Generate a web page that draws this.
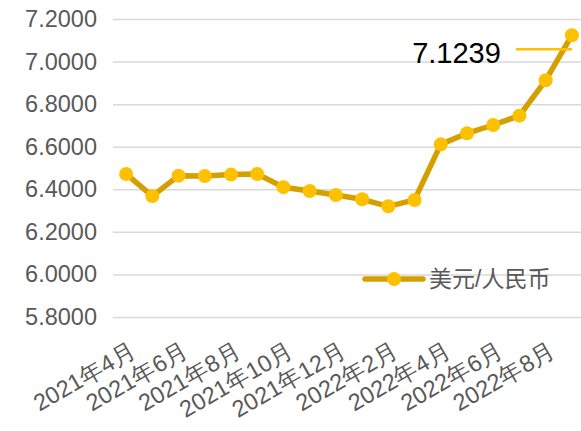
<!DOCTYPE html>
<html>
<head>
<meta charset="utf-8">
<script src="https://cdn.jsdelivr.net/npm/d3@7"></script>
<style>
  html, body { margin: 0; padding: 0; background: #fff; }
  svg { display: block; font-family: "Liberation Sans", Arial, "Noto Sans CJK SC", sans-serif; }
</style>
</head>
<body>
<div id="chart"></div>
<script>
// Month labels (every other one is shown on the axis)
const months = [
  "2021年4月", "2021年5月", "2021年6月", "2021年7月", "2021年8月", "2021年9月",
  "2021年10月", "2021年11月", "2021年12月", "2022年1月", "2022年2月", "2022年3月",
  "2022年4月", "2022年5月", "2022年6月", "2022年7月", "2022年8月", "2022年9月",
];

// USD/CNY values
const rates = [
  6.472, 6.368, 6.464, 6.462, 6.469, 6.472,
  6.410, 6.392, 6.373, 6.353, 6.320, 6.350,
  6.611, 6.663, 6.702, 6.746, 6.912, 7.1239,
];

const yTicks = [5.8, 6.0, 6.2, 6.4, 6.6, 6.8, 7.0, 7.2];
const seriesName = "美元/人民币";

const width = 581;
const height = 431;
const margin = { top: 19, right: -4, bottom: 114, left: 113 };

const svg = d3
  .select("#chart")
  .append("svg")
  .attr("width", width)
  .attr("height", height);

const x = d3
  .scalePoint()
  .domain(months)
  .range([margin.left, width - margin.right])
  .padding(0.5);

const y = d3
  .scaleLinear()
  .domain([5.8, 7.2])
  .range([height - margin.bottom, margin.top]);

// gridlines + y labels
const yAxis = svg
  .append("g")
  .attr("transform", `translate(${margin.left}, 0)`)
  .call(
    d3
      .axisLeft(y)
      .tickValues(yTicks)
      .tickSize(-(width - margin.right - margin.left))
      .tickPadding(16)
      .tickFormat(d3.format(".4f"))
  );
yAxis.select(".domain").remove();
yAxis.selectAll(".tick line").attr("stroke", "#d9d9d9").attr("stroke-width", 1.5);
yAxis
  .selectAll(".tick text")
  .attr("fill", "#595959")
  .style("font-size", "23.5px");

// x labels, rotated
const xAxis = svg
  .append("g")
  .attr("transform", `translate(0, ${height - margin.bottom})`)
  .call(
    d3
      .axisBottom(x)
      .tickValues(months.filter((d, i) => i % 2 === 0))
      .tickSize(0)
  );
xAxis.select(".domain").remove();
xAxis
  .selectAll(".tick text")
  .attr("fill", "#595959")
  .style("font-size", "23.5px")
  .attr("text-anchor", "end")
  .attr("y", 0)
  .attr("dy", "0.35em")
  .attr("transform", "translate(7, 31) rotate(-30)");

// line
const line = d3
  .line()
  .x((d, i) => x(months[i]))
  .y((d) => y(d));

svg
  .append("path")
  .datum(rates)
  .attr("fill", "none")
  .attr("stroke", "#d4a000")
  .attr("stroke-width", 5.5)
  .attr("stroke-linejoin", "round")
  .attr("d", line);

svg
  .selectAll(".dot")
  .data(rates)
  .enter()
  .append("circle")
  .attr("class", "dot")
  .attr("cx", (d, i) => x(months[i]))
  .attr("cy", (d) => y(d))
  .attr("r", 7)
  .attr("fill", "#ffc000");

// data label for the last point
const last = rates.length - 1;
svg
  .append("line")
  .attr("x1", x(months[last]) - 56)
  .attr("x2", x(months[last]))
  .attr("y1", y(rates[last]) + 14)
  .attr("y2", y(rates[last]) + 14)
  .attr("stroke", "#ffc000")
  .attr("stroke-width", 2.5);

svg
  .append("text")
  .attr("x", x(months[last]) - 71)
  .attr("y", y(rates[last]) + 27.5)
  .attr("text-anchor", "end")
  .attr("fill", "#000")
  .style("font-size", "29px")
  .text(rates[last].toFixed(4));

// legend
const legend = svg.append("g").attr("transform", "translate(365, 279)");
legend
  .append("line")
  .attr("x1", 0)
  .attr("x2", 58)
  .attr("stroke", "#d4a000")
  .attr("stroke-width", 5.5)
  .attr("stroke-linecap", "round");
legend.append("circle").attr("cx", 29).attr("r", 7).attr("fill", "#ffc000");
legend
  .append("text")
  .attr("x", 64)
  .attr("dy", "0.35em")
  .attr("fill", "#595959")
  .style("font-size", "23px")
  .text(seriesName);
</script>
</body>
</html>
